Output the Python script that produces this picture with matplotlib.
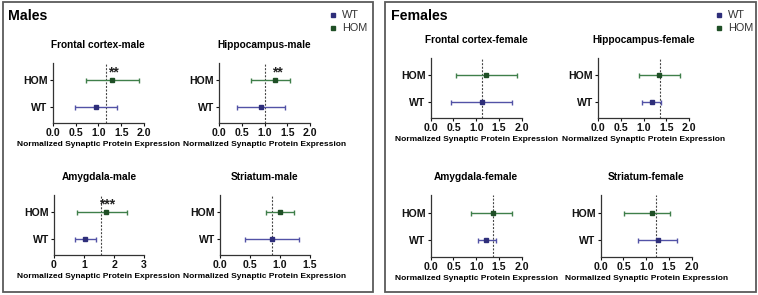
import matplotlib
matplotlib.use("Agg")
import matplotlib.pyplot as plt
from matplotlib.patches import Rectangle
from matplotlib.lines import Line2D

plt.rcParams['font.family'] = ['Liberation Sans', 'DejaVu Sans']

# ---------------- data ----------------
groups = ["WT", "HOM"]

male_regions = ["Frontal cortex-male", "Hippocampus-male", "Amygdala-male", "Striatum-male"]
male_wt_mean = [0.94, 0.92, 1.03, 0.86]
male_wt_lo = [0.49, 0.39, 0.70, 0.42]
male_wt_hi = [1.40, 1.46, 1.39, 1.31]
male_hom_mean = [1.29, 1.24, 1.73, 1.00]
male_hom_lo = [0.73, 0.70, 0.76, 0.76]
male_hom_hi = [1.88, 1.55, 2.44, 1.24]
male_ref = [1.17, 1.00, 1.56, 0.87]
male_sig = ["**", "**", "***", ""]
male_xmax = [2.0, 2.0, 3.0, 1.5]
male_xticks = [[0.0, 0.5, 1.0, 1.5, 2.0], [0.0, 0.5, 1.0, 1.5, 2.0], [0, 1, 2, 3], [0.0, 0.5, 1.0, 1.5]]
male_xticklabels = [["0.0", "0.5", "1.0", "1.5", "2.0"], ["0.0", "0.5", "1.0", "1.5", "2.0"],
                    ["0", "1", "2", "3"], ["0.0", "0.5", "1.0", "1.5"]]

female_regions = ["Frontal cortex-female", "Hippocampus-female", "Amygdala-female", "Striatum-female"]
female_wt_mean = [1.12, 1.18, 1.22, 1.25]
female_wt_lo = [0.45, 0.97, 1.03, 0.81]
female_wt_hi = [1.79, 1.38, 1.43, 1.68]
female_hom_mean = [1.22, 1.34, 1.36, 1.12]
female_hom_lo = [0.56, 0.90, 0.89, 0.51]
female_hom_hi = [1.90, 1.80, 1.79, 1.52]
female_ref = [1.12, 1.36, 1.37, 1.21]
female_sig = ["", "", "", ""]
female_xmax = [2.0, 2.0, 2.0, 2.0]
female_xticks = [[0.0, 0.5, 1.0, 1.5, 2.0]] * 4
female_xticklabels = [["0.0", "0.5", "1.0", "1.5", "2.0"]] * 4

xlabel = "Normalized Synaptic Protein Expression"

# ---------------- style ----------------
W, H = 758, 295
WT_LINE = "#5252a6"
WT_DOT = "#2e2e7a"
HOM_LINE = "#3f7f4a"
HOM_DOT = "#1f4f26"

fig = plt.figure(figsize=(W / 100, H / 100), dpi=100)


def px_axes(x0, y0, x1, y1):
    return fig.add_axes([x0 / W, 1 - y1 / H, (x1 - x0) / W, (y1 - y0) / H])


# boxes
for (bx0, by0, bx1, by1) in [(2.5, 1.5, 372.5, 291.5), (385, 1.5, 755.5, 291.5)]:
    fig.patches.append(Rectangle((bx0 / W, 1 - by1 / H), (bx1 - bx0) / W, (by1 - by0) / H,
                                 transform=fig.transFigure, fill=False,
                                 edgecolor="#5a5a5a", linewidth=1.3))

fig.text(8 / W, 1 - 15.5 / H, "Males", fontsize=10.2, fontweight="bold", va="center", ha="left")
fig.text(391 / W, 1 - 15.5 / H, "Females", fontsize=10.2, fontweight="bold", va="center", ha="left")

# legends
for lx, ly in [(333, 15), (719, 15)]:
    for i, (lab, col) in enumerate([("WT", WT_DOT), ("HOM", HOM_DOT)]):
        yy = ly + i * 13
        fig.add_artist(Line2D([lx / W], [1 - yy / H], marker="s", markersize=2.2,
                              color=col, linestyle="none", transform=fig.transFigure))
        fig.text((lx + 9) / W, 1 - yy / H, lab, fontsize=7.8, va="center", ha="left", color="#333333")


def draw_panel(rect, title, wt, hom, ref, sig, xmax, xt, xtl):
    x0, y0, x1, y1 = rect
    ax = px_axes(x0, y0, x1, y1)
    ypos = [0, 1]
    for yi, (m, lo, hi), lc, dc in [(0, wt, WT_LINE, WT_DOT), (1, hom, HOM_LINE, HOM_DOT)]:
        ax.errorbar([m], [yi], xerr=[[m - lo], [hi - m]], fmt="s", color=lc, ecolor=lc,
                    elinewidth=1.0, capsize=1.8, capthick=1.0, markersize=2.2,
                    markerfacecolor=dc, markeredgecolor=dc, zorder=3)
    ax.axvline(ref, color="#444444", linestyle=(0, (1.8, 1.4)), linewidth=0.8, zorder=2)
    if sig:
        ax.text(hom[0] * 1.03, 1.27, sig, ha="center", va="center", fontsize=10,
                fontweight="bold", color="#222222")
    ax.set_xlim(0, xmax)
    ax.set_ylim(-0.6, 1.63)
    ax.set_xticks(xt)
    ax.set_xticklabels(xtl)
    ax.set_yticks(ypos)
    ax.set_yticklabels(groups)
    for s in ["top", "right"]:
        ax.spines[s].set_visible(False)
    for s in ["left", "bottom"]:
        ax.spines[s].set_linewidth(0.9)
        ax.spines[s].set_color("#333333")
    ax.tick_params(axis="both", length=2.5, width=0.8, pad=1.2, labelsize=7.6, colors="#111111")
    for lab in ax.get_xticklabels() + ax.get_yticklabels():
        lab.set_fontweight("bold")
    ax.set_xlabel(xlabel, fontsize=6.0, fontweight="bold", labelpad=2)
    ax.set_title(title, fontsize=7.3, fontweight="bold", pad=11)
    ax.patch.set_alpha(0)


male_rects = [(52.7, 63, 144, 123), (219, 63, 310, 123), (54, 195, 144, 255), (220, 195, 310, 255)]
female_rects = [(430.7, 58, 521.7, 118), (598, 58, 689, 118), (430.7, 195, 521.7, 257), (600.7, 195, 691.7, 257)]

for i in range(4):
    draw_panel(male_rects[i], male_regions[i],
               (male_wt_mean[i], male_wt_lo[i], male_wt_hi[i]),
               (male_hom_mean[i], male_hom_lo[i], male_hom_hi[i]),
               male_ref[i], male_sig[i], male_xmax[i], male_xticks[i], male_xticklabels[i])
    draw_panel(female_rects[i], female_regions[i],
               (female_wt_mean[i], female_wt_lo[i], female_wt_hi[i]),
               (female_hom_mean[i], female_hom_lo[i], female_hom_hi[i]),
               female_ref[i], female_sig[i], female_xmax[i], female_xticks[i], female_xticklabels[i])

fig.savefig("out.png", dpi=100, facecolor="white")
